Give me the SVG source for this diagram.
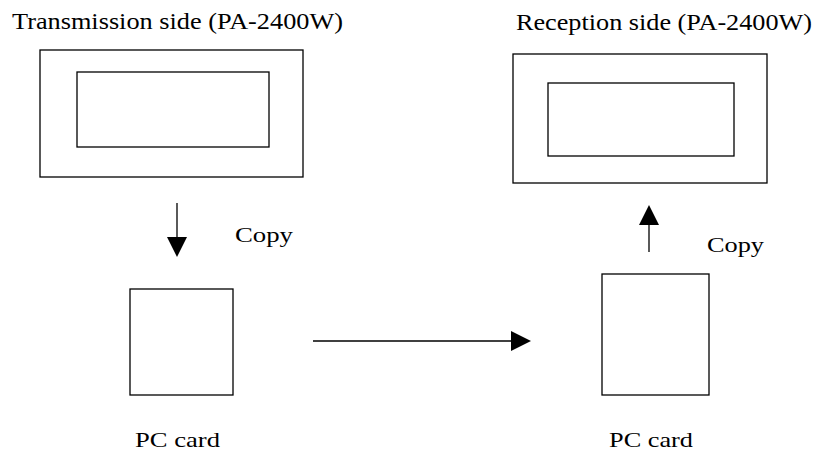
<svg xmlns="http://www.w3.org/2000/svg" width="814" height="456" viewBox="0 0 814 456">
<style>
.box{fill:none;stroke:#000;stroke-width:1.3}
.ln{stroke:#000;stroke-width:1.3;fill:none}
.hd{fill:#000}
.t{font-size:23px}
.l{font-size:21px}
</style>
<rect width="814" height="456" fill="#fff"/>
<g font-family="Liberation Serif, serif" fill="#000">
<g id="tx">
<text class="t" x="12" y="28.5" textLength="331" lengthAdjust="spacingAndGlyphs">Transmission side (PA-2400W)</text>
<rect class="box" x="40" y="50" width="263" height="127"/>
<rect class="box" x="77" y="72" width="192" height="75"/>
</g>
<g id="rx">
<text class="t" x="516" y="30" textLength="296" lengthAdjust="spacingAndGlyphs">Reception side (PA-2400W)</text>
<rect class="box" x="513" y="54" width="254" height="129"/>
<rect class="box" x="548" y="83" width="186" height="73"/>
</g>
<g id="card1">
<rect class="box" x="130" y="289" width="103" height="106"/>
<text class="l" x="135" y="447" textLength="85" lengthAdjust="spacingAndGlyphs">PC card</text>
</g>
<g id="card2">
<rect class="box" x="602" y="274" width="107" height="121"/>
<text class="l" x="609" y="447" textLength="84" lengthAdjust="spacingAndGlyphs">PC card</text>
</g>
<g id="connectors">
<line class="ln" x1="177" y1="203" x2="177" y2="238"/>
<polygon class="hd" points="167,237 187,237 177,257"/>
<text class="l" x="235" y="242" textLength="58" lengthAdjust="spacingAndGlyphs">Copy</text>
<line class="ln" x1="313" y1="341" x2="512" y2="341"/>
<polygon class="hd" points="511,331 531,341 511,351"/>
<line class="ln" x1="649" y1="224" x2="649" y2="252"/>
<polygon class="hd" points="639,225 659,225 649,205"/>
<text class="l" x="707" y="252" textLength="57" lengthAdjust="spacingAndGlyphs">Copy</text>
</g>
</g>
</svg>
